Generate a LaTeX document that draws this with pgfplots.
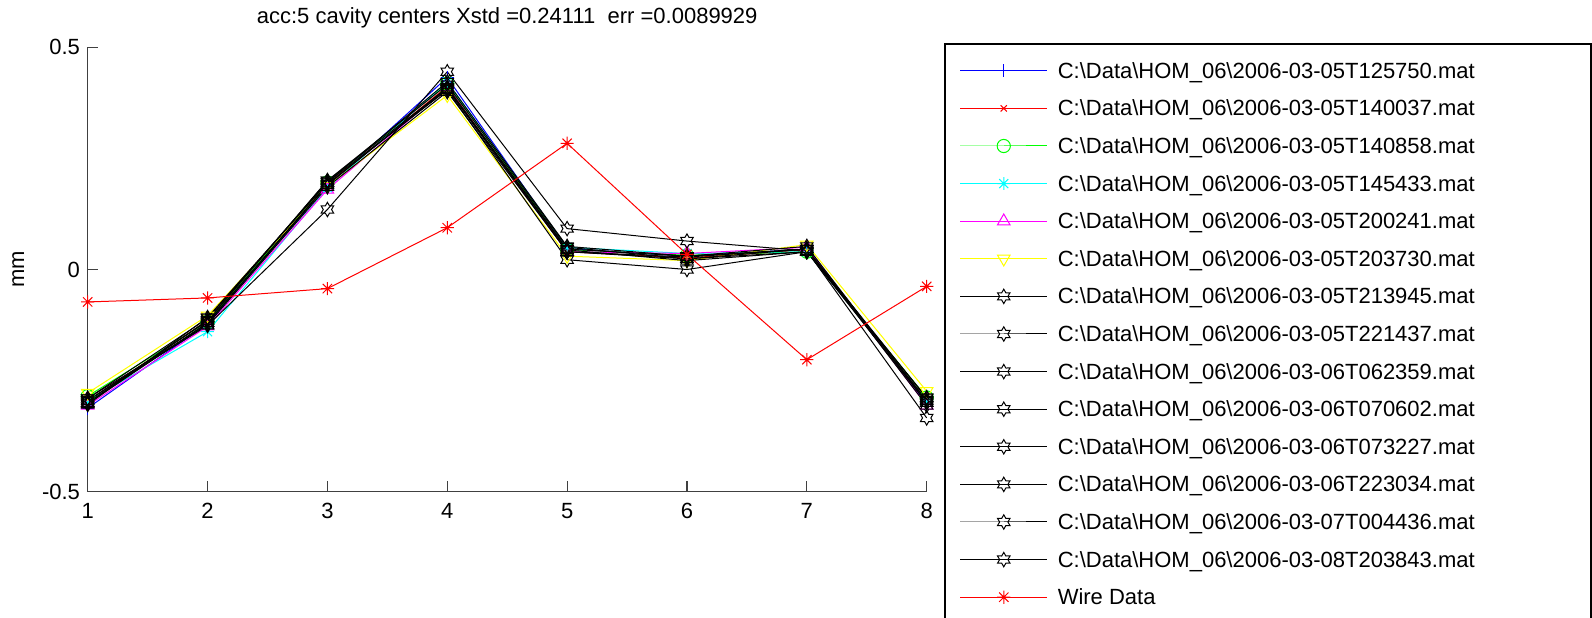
\documentclass[border=0pt]{standalone}
\usepackage{fontspec}
\setmainfont{Liberation Sans}
\usepackage{pgfplots}
\pgfplotsset{compat=1.18}

\definecolor{mblue}{rgb}{0,0,1}
\definecolor{mred}{rgb}{1,0,0}
\definecolor{mgreen}{rgb}{0,1,0}
\definecolor{mcyan}{rgb}{0,1,1}
\definecolor{mmagenta}{rgb}{1,0,1}
\definecolor{myellow}{rgb}{1,1,0}

\pgfdeclareplotmark{hexagram}{%
  \pgfpathmoveto{\pgfpointpolar{90}{\pgfplotmarksize}}%
  \pgfpathlineto{\pgfpointpolar{120}{0.577\pgfplotmarksize}}%
  \pgfpathlineto{\pgfpointpolar{150}{\pgfplotmarksize}}%
  \pgfpathlineto{\pgfpointpolar{180}{0.577\pgfplotmarksize}}%
  \pgfpathlineto{\pgfpointpolar{210}{\pgfplotmarksize}}%
  \pgfpathlineto{\pgfpointpolar{240}{0.577\pgfplotmarksize}}%
  \pgfpathlineto{\pgfpointpolar{270}{\pgfplotmarksize}}%
  \pgfpathlineto{\pgfpointpolar{300}{0.577\pgfplotmarksize}}%
  \pgfpathlineto{\pgfpointpolar{330}{\pgfplotmarksize}}%
  \pgfpathlineto{\pgfpointpolar{0}{0.577\pgfplotmarksize}}%
  \pgfpathlineto{\pgfpointpolar{30}{\pgfplotmarksize}}%
  \pgfpathlineto{\pgfpointpolar{60}{0.577\pgfplotmarksize}}%
  \pgfpathclose
  \pgfusepathqstroke}
\pgfdeclareplotmark{mstar}{%
  \pgfpathmoveto{\pgfpoint{0pt}{\pgfplotmarksize}}%
  \pgfpathlineto{\pgfpoint{0pt}{-\pgfplotmarksize}}%
  \pgfpathmoveto{\pgfpoint{\pgfplotmarksize}{0pt}}%
  \pgfpathlineto{\pgfpoint{-\pgfplotmarksize}{0pt}}%
  \pgfpathmoveto{\pgfpoint{0.707\pgfplotmarksize}{0.707\pgfplotmarksize}}%
  \pgfpathlineto{\pgfpoint{-0.707\pgfplotmarksize}{-0.707\pgfplotmarksize}}%
  \pgfpathmoveto{\pgfpoint{-0.707\pgfplotmarksize}{0.707\pgfplotmarksize}}%
  \pgfpathlineto{\pgfpoint{0.707\pgfplotmarksize}{-0.707\pgfplotmarksize}}%
  \pgfusepathqstroke}

\newcommand{\fn}[1]{C:\textbackslash Data\textbackslash HOM\_06\textbackslash 2006-03-#1.mat}

\begin{document}
\fontsize{11pt}{13pt}\selectfont
\begin{tikzpicture}[font=\fontsize{11pt}{13pt}\selectfont]
\useasboundingbox (-43.85pt,-62.65pt) rectangle (752.15pt,245.85pt);
\begin{axis}[
  scale only axis, width=419.5pt, height=222.2pt,
  xmin=1, xmax=8, ymin=-0.5, ymax=0.5,
  clip=false,
  axis x line*=bottom, axis y line*=left,
  axis line style={black!75, line width=0.6pt},
  tick style={black!75, line width=0.6pt},
  tick align=inside, major tick length=5.3pt,
  xtick={1,2,3,4,5,6,7,8}, xticklabels={1,2,3,4,5,6,7,8},
  ytick={-0.5,0,0.5}, yticklabels={-0.5,0,0.5},
  xticklabel shift=2pt,
  tick label style={font=\fontsize{11pt}{13pt}\selectfont, black},
  title={acc:5 cavity centers Xstd =0.24111\ \ err =0.0089929},
  title style={at={(axis description cs:0.5,1)}, anchor=center, yshift=8.5pt, font=\fontsize{11pt}{13pt}\selectfont},
  ylabel={mm},
  ylabel style={at={(axis description cs:-0.0827,0.5)}, anchor=center, font=\fontsize{11pt}{13pt}\selectfont},
  every axis plot/.append style={line width=0.5pt, mark options={solid}},
  legend cell align=left,
  legend image code/.code={\draw[mark repeat=2,mark phase=2,#1] plot coordinates {(0pt,0pt) (21.75pt,0pt) (43.5pt,0pt)};},
  legend style={at={(axis description cs:1.0206,1.0097)}, anchor=north west,
    draw=black, line width=0.8pt, fill=white,
    inner xsep=7.5pt, inner ysep=7.5pt, row sep=6.8pt, column sep=5pt,
    nodes={inner sep=0pt, text height=9.8pt, text depth=2.2pt},
    font=\fontsize{11pt}{13pt}\selectfont},
]
\addplot[mblue, mark=+, mark size=3.3pt] coordinates {(1,-0.312)(2,-0.122)(3,0.188)(4,0.432)(5,0.047)(6,0.030)(7,0.046)(8,-0.302)};
\addlegendentry{\fn{05T125750}}
\addplot[mred, mark=x, mark size=2.2pt] coordinates {(1,-0.296)(2,-0.115)(3,0.192)(4,0.412)(5,0.040)(6,0.026)(7,0.044)(8,-0.296)};
\addlegendentry{\fn{05T140037}}
\addplot[mgreen, mark=o, mark size=3.3pt] coordinates {(1,-0.285)(2,-0.118)(3,0.196)(4,0.418)(5,0.045)(6,0.032)(7,0.040)(8,-0.288)};
\addlegendentry{\fn{05T140858}}
\addplot[mcyan, mark=mstar, mark size=3.2pt] coordinates {(1,-0.296)(2,-0.140)(3,0.184)(4,0.422)(5,0.050)(6,0.036)(7,0.040)(8,-0.296)};
\addlegendentry{\fn{05T145433}}
\addplot[mmagenta, mark=triangle, mark size=3.6pt] coordinates {(1,-0.306)(2,-0.128)(3,0.180)(4,0.410)(5,0.040)(6,0.036)(7,0.050)(8,-0.306)};
\addlegendentry{\fn{05T200241}}
\addplot[myellow, mark=triangle, mark size=3.6pt, mark options={rotate=180}] coordinates {(1,-0.278)(2,-0.104)(3,0.188)(4,0.392)(5,0.030)(6,0.020)(7,0.056)(8,-0.274)};
\addlegendentry{\fn{05T203730}}
\addplot[black, mark=hexagram, mark size=3.6pt] coordinates {(1,-0.300)(2,-0.114)(3,0.200)(4,0.416)(5,0.050)(6,0.024)(7,0.046)(8,-0.290)};
\addlegendentry{\fn{05T213945}}
\addplot[black, mark=hexagram, mark size=3.6pt] coordinates {(1,-0.294)(2,-0.126)(3,0.135)(4,0.445)(5,0.092)(6,0.064)(7,0.042)(8,-0.334)};
\addlegendentry{\fn{05T221437}}
\addplot[black, mark=hexagram, mark size=3.6pt] coordinates {(1,-0.290)(2,-0.110)(3,0.196)(4,0.404)(5,0.022)(6,0.000)(7,0.040)(8,-0.300)};
\addlegendentry{\fn{06T062359}}
\addplot[black, mark=hexagram, mark size=3.6pt] coordinates {(1,-0.302)(2,-0.120)(3,0.190)(4,0.410)(5,0.046)(6,0.030)(7,0.046)(8,-0.296)};
\addlegendentry{\fn{06T070602}}
\addplot[black, mark=hexagram, mark size=3.6pt] coordinates {(1,-0.290)(2,-0.124)(3,0.186)(4,0.400)(5,0.040)(6,0.024)(7,0.040)(8,-0.288)};
\addlegendentry{\fn{06T073227}}
\addplot[black, mark=hexagram, mark size=3.6pt] coordinates {(1,-0.304)(2,-0.108)(3,0.196)(4,0.422)(5,0.052)(6,0.030)(7,0.052)(8,-0.300)};
\addlegendentry{\fn{06T223034}}
\addplot[black, mark=hexagram, mark size=3.6pt] coordinates {(1,-0.296)(2,-0.116)(3,0.200)(4,0.408)(5,0.044)(6,0.020)(7,0.040)(8,-0.294)};
\addlegendentry{\fn{07T004436}}
\addplot[black, mark=hexagram, mark size=3.6pt] coordinates {(1,-0.300)(2,-0.120)(3,0.192)(4,0.406)(5,0.040)(6,0.028)(7,0.046)(8,-0.306)};
\addlegendentry{\fn{08T203843}}
\addplot[mred, mark=mstar, mark size=3.3pt] coordinates {(1,-0.073)(2,-0.064)(3,-0.043)(4,0.094)(5,0.284)(6,0.034)(7,-0.203)(8,-0.038)};
\addlegendentry{\makebox[259pt][l]{Wire Data}}
\end{axis}
\end{tikzpicture}
\end{document}
